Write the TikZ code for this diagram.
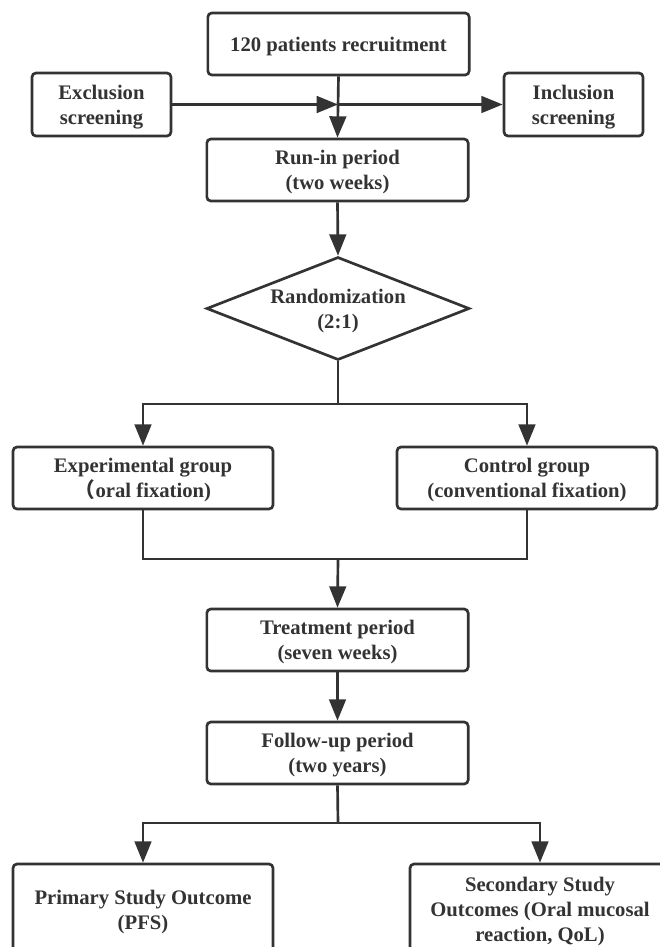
\documentclass[tikz,border=0pt]{standalone}
\usepackage{fontspec}
\setmainfont{Liberation Serif}[BoldFont={Liberation Serif Bold}]
\newfontfamily\cjk{Noto Sans CJK SC}
\usetikzlibrary{shapes.geometric,arrows.meta}
\definecolor{ink}{HTML}{333333}
\begin{document}
\begin{tikzpicture}[x=0.75pt,y=-0.75pt,
  txt/.style={text=ink, font=\bfseries\fontsize{15.5}{18.75}\selectfont, align=center, text depth=0pt},
  box/.style={txt, draw=ink, line width=2pt, rounded corners=3pt, inner sep=0pt},
  mainbox/.style={box, minimum width=196pt, minimum height=46.5pt},
  sidebox/.style={box, minimum width=104.25pt, minimum height=47.25pt},
  groupbox/.style={box, minimum width=195pt, minimum height=46.5pt},
  outbox/.style={box, minimum width=195pt, minimum height=68.25pt},
  decision/.style={txt, draw=ink, line width=2pt, shape=diamond, aspect=2.55, inner sep=0pt, minimum width=197.25pt, minimum height=77.25pt},
  conn/.style={draw=ink, line width=2pt},
  arr/.style={conn, -{Triangle[length=16pt,width=12.5pt]}}]
\useasboundingbox (0,0) rectangle (660,947);
\fill[white] (0,0) rectangle (660,947);
\clip (0,0) rectangle (660,947);

\node[mainbox] (rec) at (338.5,44) {120 patients recruitment};
\node[sidebox] (exc) at (101.5,104.5) {Exclusion\\screening};
\node[sidebox] (inc) at (573.5,104.5) {Inclusion\\screening};
\node[mainbox] (run) at (337.5,170) {Run-in period\\(two weeks)};
\node[decision] (dia) at (338,308.5) {Randomization\\(2:1)};
\node[groupbox] (exp) at (143,478) {Experimental group\\{\cjk （}oral fixation)};
\node[groupbox] (ctl) at (527,478) {Control group\\(conventional fixation)};
\node[mainbox] (trt) at (337.5,640) {Treatment period\\(seven weeks)};
\node[mainbox] (fol) at (337.5,753) {Follow-up period\\(two years)};
\node[outbox] (pri) at (143,909.5) {Primary Study Outcome\\(PFS)};
\node[outbox] (sec) at (540,909.5) {Secondary Study\\Outcomes (Oral mucosal\\reaction, QoL)};

\coordinate (mid) at (338,104.5);
\coordinate (s1) at (338,404);
\coordinate (j1) at (338,559);
\coordinate (s2) at (338,823);

\draw[arr] (rec.south) -- (run.north);
\draw[arr] (exc.east) -- (mid);
\draw[arr] (mid) -- (inc.west);
\draw[arr] (run.south) -- (dia.north);
\draw[conn] (dia.south) -- (s1);
\draw[arr] (s1) -| (exp.north);
\draw[arr] (s1) -| (ctl.north);
\draw[conn] (exp.south) |- (j1) -| (ctl.south);
\draw[arr] (j1) -- (trt.north);
\draw[arr] (trt.south) -- (fol.north);
\draw[conn] (fol.south) -- (s2);
\draw[arr] (s2) -| (pri.north);
\draw[arr] (s2) -| (sec.north);
\end{tikzpicture}
\end{document}
